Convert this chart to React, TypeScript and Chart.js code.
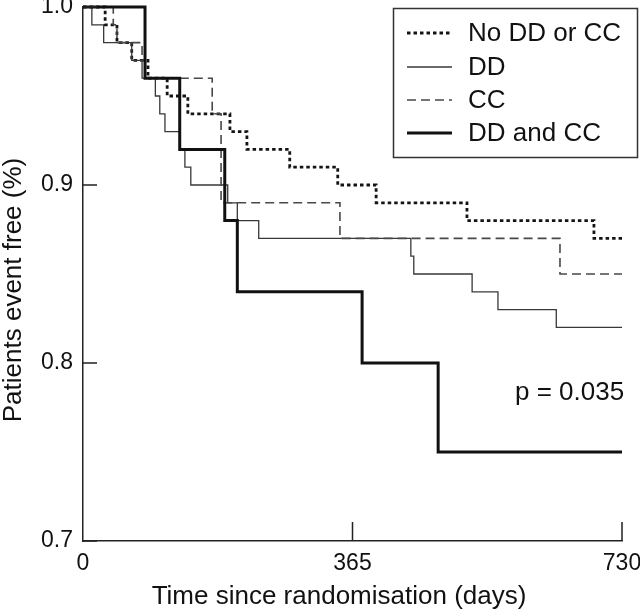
import React, { useEffect, useRef } from "react";
import { Chart, registerables } from "chart.js";

Chart.register(...registerables);

// ---- data ----
const xTickValues = [0, 365, 730];
const yTickValues = [0.7, 0.8, 0.9, 1.0];

const seriesLabels = ["No DD or CC", "DD", "CC", "DD and CC"];

const noneDays = [0, 30, 46, 66, 88, 114, 142, 199, 222, 280, 345, 397, 520, 692, 730];
const noneSurv = [1.0, 0.99, 0.98, 0.97, 0.96, 0.95, 0.94, 0.93, 0.92, 0.91, 0.9, 0.89, 0.88, 0.87, 0.87];

const ddDays = [0, 12, 28, 66, 80, 98, 104, 111, 131, 138, 146, 196, 209, 238, 444, 448, 527, 562, 641, 730];
const ddSurv = [1.0, 0.99, 0.98, 0.97, 0.96, 0.95, 0.94, 0.93, 0.92, 0.91, 0.9, 0.89, 0.88, 0.87, 0.86, 0.85, 0.84, 0.83, 0.82, 0.82];

const ccDays = [0, 41, 46, 80, 84, 175, 187, 348, 646, 730];
const ccSurv = [1.0, 0.99, 0.98, 0.97, 0.96, 0.94, 0.89, 0.87, 0.85, 0.85];

const bothDays = [0, 84, 131, 192, 209, 378, 481, 730];
const bothSurv = [1.0, 0.96, 0.92, 0.88, 0.84, 0.8, 0.75, 0.75];

const xTitle = "Time since randomisation (days)";
const yTitle = "Patients event free (%)";
const pValueText = "p = 0.035";

// ---- styles ----
const FONT = '"Liberation Sans", Arial, Helvetica, sans-serif';
const seriesStyles = [
  { color: "#141414", width: 2.8, dash: [3.5, 3] },
  { color: "#383838", width: 1.3, dash: [] as number[] },
  { color: "#484848", width: 1.6, dash: [9, 5] },
  { color: "#111111", width: 3, dash: [] as number[] },
];

const toPoints = (days: number[], surv: number[]) =>
  days.map((d, i) => ({ x: d, y: surv[i] }));

const overlayPlugin = {
  id: "overlay",
  afterDraw(chart: any) {
    const ctx = chart.ctx as CanvasRenderingContext2D;
    const { left, bottom } = chart.chartArea;
    const xs = chart.scales.x;
    const ys = chart.scales.y;
    ctx.save();
    // inward ticks
    ctx.strokeStyle = "#222";
    ctx.lineWidth = 1.5;
    ctx.setLineDash([]);
    ctx.beginPath();
    yTickValues.forEach((v) => {
      const y = ys.getPixelForValue(v);
      ctx.moveTo(left, y);
      ctx.lineTo(left + 14, y);
    });
    xTickValues.forEach((v) => {
      if (v === 0) return;
      const x = xs.getPixelForValue(v);
      ctx.moveTo(x, bottom);
      ctx.lineTo(x, bottom - 19);
    });
    ctx.stroke();

    // axis titles
    ctx.fillStyle = "#111";
    ctx.font = `26px ${FONT}`;
    ctx.textAlign = "center";
    ctx.textBaseline = "middle";
    ctx.fillText(xTitle, 339, 597);
    ctx.save();
    ctx.translate(14, 290);
    ctx.rotate(-Math.PI / 2);
    ctx.fillText(yTitle, 0, 0);
    ctx.restore();

    // p value
    ctx.textAlign = "left";
    ctx.fillText(pValueText, 515, 393);

    // legend
    ctx.strokeStyle = "#333";
    ctx.lineWidth = 1.5;
    ctx.strokeRect(393.5, 8.5, 244, 149);
    const rows = [33, 67, 100, 133];
    seriesLabels.forEach((label, i) => {
      const st = seriesStyles[i];
      const y = rows[i];
      ctx.beginPath();
      ctx.strokeStyle = st.color;
      ctx.lineWidth = st.width;
      ctx.setLineDash(st.dash);
      ctx.moveTo(407, y);
      ctx.lineTo(452, y);
      ctx.stroke();
      ctx.setLineDash([]);
      ctx.fillStyle = "#111";
      ctx.fillText(label, 468, y + 1);
    });
    ctx.restore();
  },
};

export default function App() {
  const canvasRef = useRef<HTMLCanvasElement | null>(null);

  useEffect(() => {
    const canvas = canvasRef.current;
    if (!canvas) return;
    const sets = [
      toPoints(noneDays, noneSurv),
      toPoints(ddDays, ddSurv),
      toPoints(ccDays, ccSurv),
      toPoints(bothDays, bothSurv),
    ];
    const chart = new Chart(canvas, {
      type: "line",
      data: {
        datasets: sets.map((pts, i) => ({
          label: seriesLabels[i],
          data: pts,
          stepped: "before" as const,
          borderColor: seriesStyles[i].color,
          borderWidth: seriesStyles[i].width,
          borderDash: seriesStyles[i].dash,
          borderCapStyle: "butt" as const,
          pointRadius: 0,
          fill: false,
          tension: 0,
          clip: false as any,
          order: 3 - i,
        })),
      },
      options: {
        animation: false,
        responsive: false,
        devicePixelRatio: 1,
        layout: { padding: { left: 0, top: 7, right: 18, bottom: 0 } },
        plugins: {
          legend: { display: false },
          tooltip: { enabled: false },
        },
        scales: {
          x: {
            type: "linear",
            min: 0,
            max: 730,
            afterBuildTicks: (s: any) => {
              s.ticks = xTickValues.map((v) => ({ value: v }));
            },
            afterFit: (s: any) => {
              s.height = 69;
              s.paddingLeft = 0;
              s.paddingRight = 0;
            },
            grid: { display: false, drawTicks: false },
            border: { display: true, color: "#222", width: 1.5 },
            ticks: {
              padding: 9,
              color: "#111",
              font: { family: FONT, size: 23 },
              maxRotation: 0,
              autoSkip: false,
              callback: (v: any) => String(v),
            },
          },
          y: {
            type: "linear",
            min: 0.7,
            max: 1.0,
            afterBuildTicks: (s: any) => {
              s.ticks = yTickValues.map((v) => ({ value: v }));
            },
            afterFit: (s: any) => {
              s.width = 83;
              s.paddingTop = 0;
              s.paddingBottom = 0;
            },
            grid: { display: false, drawTicks: false },
            border: { display: true, color: "#222", width: 1.5 },
            ticks: {
              padding: 10,
              color: "#111",
              font: { family: FONT, size: 23 },
              autoSkip: false,
              callback: (v: any) => Number(v).toFixed(1),
            },
          },
        },
      },
      plugins: [overlayPlugin],
    });
    return () => chart.destroy();
  }, []);

  return (
    <div style={{ position: "fixed", left: 0, top: 0, width: 640, height: 610, background: "#fff" }}>
      <canvas ref={canvasRef} width={640} height={610} style={{ display: "block" }} />
    </div>
  );
}
